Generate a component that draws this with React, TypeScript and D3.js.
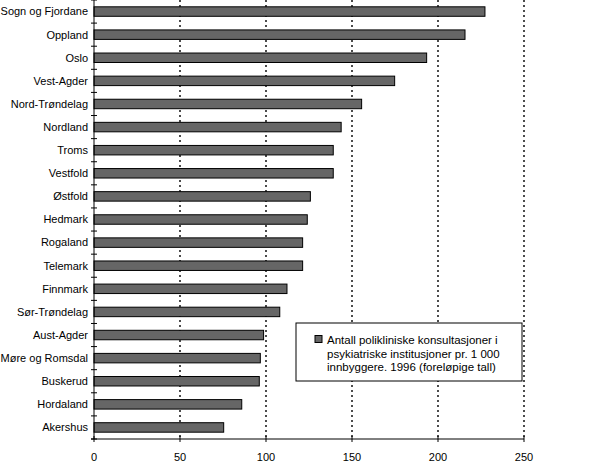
import * as d3 from "d3";
import { useEffect } from "react";

const counties = [
  "Sogn og Fjordane",
  "Oppland",
  "Oslo",
  "Vest-Agder",
  "Nord-Trøndelag",
  "Nordland",
  "Troms",
  "Vestfold",
  "Østfold",
  "Hedmark",
  "Rogaland",
  "Telemark",
  "Finnmark",
  "Sør-Trøndelag",
  "Aust-Agder",
  "Møre og Romsdal",
  "Buskerud",
  "Hordaland",
  "Akershus",
];

const consultations = [
  227.3, 215.7, 193.4, 174.8, 155.6, 143.7, 139.1, 139.1, 125.8, 124.0, 121.3,
  121.3, 112.2, 108.0, 98.6, 96.7, 96.1, 85.9, 75.4,
];

const xTicks = [0, 50, 100, 150, 200, 250];

const legendLines = [
  "Antall polikliniske konsultasjoner i",
  "psykiatriske institusjoner pr. 1 000",
  "innbyggere. 1996 (foreløpige tall)",
];

const width = 590;
const height = 464;
const marginLeft = 94;
const marginRight = 66;
const marginTop = 0;
const marginBottom = 25;
const font = "Liberation Sans, Arial, sans-serif";

export default function App() {
  useEffect(() => {
    document.body.style.margin = "0";
  }, []);

  const x = d3
    .scaleLinear()
    .domain([0, 250])
    .range([marginLeft, width - marginRight]);

  const y = d3
    .scaleBand()
    .domain(counties)
    .range([marginTop, height - marginBottom])
    .paddingInner(0.59)
    .paddingOuter(0.295);

  const step = y.step();
  const axisY = height - marginBottom;

  return (
    <svg width={width} height={height} style={{ display: "block" }}>
      {/* dotted grid */}
      {xTicks.slice(1).map((t) => (
        <line
          key={t}
          x1={x(t)}
          x2={x(t)}
          y1={marginTop}
          y2={axisY}
          stroke="black"
          strokeWidth={1.4}
          strokeDasharray="2,3"
        />
      ))}

      {/* bars */}
      {counties.map((c, i) => (
        <rect
          key={c}
          x={x(0)}
          y={y(c)!}
          width={x(consultations[i]) - x(0)}
          height={y.bandwidth()}
          fill="#666666"
          stroke="black"
          strokeWidth={1}
        />
      ))}

      {/* y axis */}
      <line x1={x(0)} x2={x(0)} y1={marginTop} y2={axisY} stroke="black" />
      {d3.range(counties.length + 1).map((i) => (
        <line
          key={i}
          x1={x(0) - 3}
          x2={x(0) + 3}
          y1={marginTop + i * step}
          y2={marginTop + i * step}
          stroke="black"
        />
      ))}
      {counties.map((c) => (
        <text
          key={c}
          x={x(0) - 6}
          y={y(c)! + y.bandwidth() / 2}
          dy="0.35em"
          textAnchor="end"
          fontFamily={font}
          fontSize={11}
        >
          {c}
        </text>
      ))}

      {/* x axis */}
      <line x1={x(0) - 3} x2={x(250)} y1={axisY} y2={axisY} stroke="black" />
      {xTicks.map((t) => (
        <g key={t}>
          <line
            x1={x(t)}
            x2={x(t)}
            y1={axisY - 3}
            y2={axisY + 3}
            stroke="black"
          />
          <text
            x={x(t)}
            y={axisY + 18}
            dy="0.35em"
            textAnchor="middle"
            fontFamily={font}
            fontSize={11}
          >
            {t}
          </text>
        </g>
      ))}

      {/* legend */}
      <rect
        x={296}
        y={323}
        width={226}
        height={58}
        fill="white"
        stroke="black"
        strokeWidth={1}
      />
      <rect
        x={315}
        y={335.5}
        width={7}
        height={7}
        fill="#666666"
        stroke="black"
        strokeWidth={1}
      />
      {legendLines.map((l, i) => (
        <text
          key={i}
          x={327}
          y={340 + i * 13.5}
          dy="0.35em"
          fontFamily={font}
          fontSize={11.5}
        >
          {l}
        </text>
      ))}
    </svg>
  );
}
